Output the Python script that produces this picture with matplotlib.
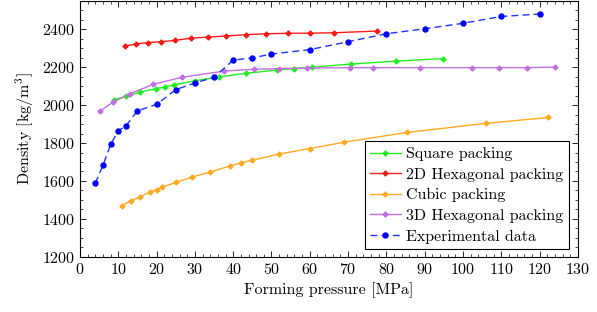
import numpy as np
import matplotlib.pyplot as plt
from matplotlib.ticker import MultipleLocator

plt.rcParams['font.family'] = 'serif'
plt.rcParams['font.serif'] = ['cmr10']
plt.rcParams['mathtext.fontset'] = 'cm'
plt.rcParams['axes.formatter.use_mathtext'] = True

# Square packing
sq_x = [8.9, 12.1, 15.7, 19.9, 22.2, 24.6, 29.9, 36.2, 43.4, 51.5, 55.8, 60.5, 70.8, 82.4, 94.9]
sq_y = [2029, 2046, 2069, 2087, 2096, 2108, 2128, 2149, 2168, 2186, 2193, 2200, 2217, 2232, 2246]

# 2D hexagonal packing
hex2_x = [11.8, 14.7, 17.7, 21.2, 24.9, 29.1, 33.4, 38.2, 43.3, 48.5, 54.2, 60.1, 66.2, 77.5]
hex2_y = [2312, 2323, 2330, 2335, 2342, 2354, 2359, 2365, 2372, 2377, 2379, 2380, 2382, 2391]

# Cubic packing
cub_x = [10.9, 13.2, 15.6, 18.3, 20.0, 21.5, 25.1, 29.3, 34.0, 39.1, 42.1, 45.0, 51.9, 60.0, 69.0, 85.4, 106.0, 122.3]
cub_y = [1469, 1495, 1516, 1542, 1554, 1567, 1593, 1621, 1647, 1679, 1696, 1709, 1742, 1771, 1805, 1856, 1904, 1935]

# 3D hexagonal packing
hex3_x = [5.3, 8.7, 13.1, 19.1, 26.6, 37.7, 45.4, 51.9, 59.3, 70.5, 76.4, 88.9, 102.4, 109.4, 116.7, 124.1]
hex3_y = [1969, 2017, 2060, 2110, 2147, 2180, 2189, 2193, 2196, 2198, 2198, 2198, 2198, 2198, 2198, 2201]

# Experimental data
exp_x = [4, 6, 8, 10, 12, 15, 20, 25, 30, 35, 40, 45, 50, 60, 70, 80, 90, 100, 110, 120]
exp_y = [1588, 1683, 1793, 1865, 1891, 1970, 2004, 2082, 2117, 2147, 2238, 2249, 2270, 2293, 2335, 2377, 2403, 2432, 2468, 2481]

fig = plt.figure(figsize=(5.97, 3.12), dpi=100)
ax = fig.add_axes([0.134, 0.177, 0.834, 0.82])

ms = 3.2
ax.plot(sq_x, sq_y, color='#22ee22', marker='P', ms=ms, lw=1.0, label='Square packing')
ax.plot(hex2_x, hex2_y, color='#ff1a1a', marker='P', ms=ms, lw=1.0, label='2D Hexagonal packing')
ax.plot(cub_x, cub_y, color='#ffaa22', marker='P', ms=ms, lw=1.0, label='Cubic packing')
ax.plot(hex3_x, hex3_y, color='#c070e0', marker='P', ms=ms, lw=1.0, label='3D Hexagonal packing')
ax.plot(exp_x, exp_y, color='#2233ff', marker='o', ms=3.6, mfc='#0000ff', mec='#0000ff',
        lw=1.0, linestyle=(0, (5, 3)), label='Experimental data')

ax.set_xlim(0, 130)
ax.set_ylim(1200, 2550)
ax.xaxis.set_major_locator(MultipleLocator(10))
ax.xaxis.set_minor_locator(MultipleLocator(2))
ax.yaxis.set_major_locator(MultipleLocator(200))
ax.yaxis.set_minor_locator(MultipleLocator(50))
ax.tick_params(which='both', direction='in', top=True, right=True, labelsize=11.5)
ax.tick_params(which='major', length=4, width=0.6)
ax.tick_params(which='minor', length=2, width=0.5)
for s in ax.spines.values():
    s.set_linewidth(0.8)

ax.set_xlabel('Forming pressure [MPa]', fontsize=11.5)
ax.set_ylabel('Density [kg/m$^3$]', fontsize=11.5)

leg = ax.legend(loc='lower right', bbox_to_anchor=(0.982, 0.03), fontsize=11.5, fancybox=False,
                edgecolor='black', framealpha=1, borderaxespad=0, handlelength=1.9,
                labelspacing=0.4, borderpad=0.35, handletextpad=0.35)
leg.get_frame().set_linewidth(0.8)

fig.savefig('out.png', dpi=100)
